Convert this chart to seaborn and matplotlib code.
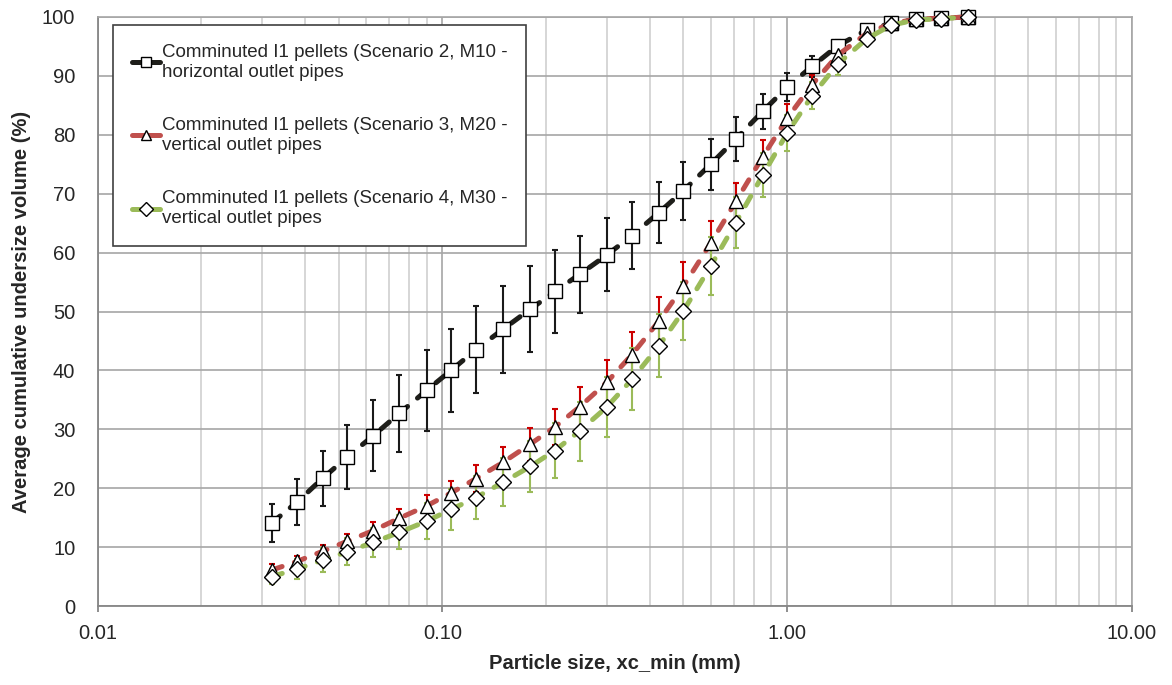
import numpy as np
import matplotlib
matplotlib.use("Agg")
import matplotlib.pyplot as plt
import matplotlib.ticker as mticker
import seaborn as sns

# sieve sizes (mm)
sizes = [0.032, 0.038, 0.045, 0.053, 0.063, 0.075, 0.090, 0.106, 0.125, 0.150,
         0.180, 0.212, 0.250, 0.300, 0.355, 0.425, 0.500, 0.600, 0.710, 0.850,
         1.000, 1.180, 1.400, 1.700, 2.000, 2.360, 2.800, 3.350]

# Scenario 2, M10 - horizontal outlet pipes
s2_mean = [14.1, 17.7, 21.7, 25.3, 28.9, 32.7, 36.6, 40.0, 43.5, 47.0,
           50.4, 53.4, 56.3, 59.6, 62.9, 66.8, 70.5, 75.0, 79.3, 84.0,
           88.1, 91.6, 95.1, 97.8, 98.9, 99.6, 99.8, 100.0]
s2_err = [3.2, 3.9, 4.7, 5.4, 6.0, 6.6, 6.9, 7.1, 7.4, 7.4,
          7.3, 7.0, 6.6, 6.2, 5.7, 5.2, 4.9, 4.3, 3.7, 3.0,
          2.4, 1.8, 1.0, 0.5, 0.3, 0.1, 0.1, 0.0]

# Scenario 3, M20 - vertical outlet pipes
s3_mean = [6.1, 7.6, 9.3, 11.0, 12.8, 14.9, 17.0, 19.2, 21.6, 24.4,
           27.5, 30.4, 33.8, 38.0, 42.7, 48.4, 54.3, 61.6, 68.7, 76.3,
           82.8, 88.5, 93.5, 97.2, 98.9, 99.6, 99.8, 100.0]
s3_err = [1.0, 0.9, 1.1, 1.2, 1.5, 1.6, 1.9, 2.1, 2.3, 2.6,
          2.8, 3.1, 3.4, 3.8, 3.9, 4.1, 4.1, 3.8, 3.2, 2.8,
          2.4, 1.6, 1.0, 0.6, 0.3, 0.1, 0.1, 0.0]

# Scenario 4, M30 - vertical outlet pipes
s4_mean = [5.0, 6.3, 7.8, 9.2, 10.8, 12.5, 14.4, 16.4, 18.4, 21.0,
           23.7, 26.4, 29.7, 33.8, 38.5, 44.2, 50.1, 57.7, 65.1, 73.2,
           80.3, 86.6, 92.0, 96.3, 98.6, 99.5, 99.7, 100.0]
s4_err = [1.2, 1.7, 2.0, 2.3, 2.4, 2.9, 3.1, 3.5, 3.7, 4.1,
          4.4, 4.6, 5.0, 5.1, 5.3, 5.3, 4.9, 4.9, 4.4, 3.7,
          3.1, 2.3, 1.8, 0.8, 0.4, 0.1, 0.1, 0.0]

labels = ["Comminuted I1 pellets (Scenario 2, M10 -\nhorizontal outlet pipes",
          "Comminuted I1 pellets (Scenario 3, M20 -\nvertical outlet pipes",
          "Comminuted I1 pellets (Scenario 4, M30 -\nvertical outlet pipes"]

sns.set_theme(style="white")
plt.rcParams['font.family'] = ['Liberation Sans', 'DejaVu Sans']

fig, ax = plt.subplots(figsize=(11.72, 6.85), dpi=100)
fig.subplots_adjust(left=0.0832, right=0.9659, top=0.9752, bottom=0.1153)

series = [
    (s2_mean, s2_err, labels[0], "#1e1e1a", "#1a1a1a", "s", 9.5),
    (s3_mean, s3_err, labels[1], "#c0504d", "#cc0000", "^", 10.5),
    (s4_mean, s4_err, labels[2], "#9bbb59", "#9bbb59", "D", 8),
]

dash = (0, (2.2, 2.6))
for k, (mean, err, lab, col, ecol, mk, ms) in enumerate(series):
    ax.errorbar(sizes, mean, yerr=err, fmt="none", ecolor=ecol, elinewidth=1.5,
                capsize=2.5, capthick=1.5, zorder=2 + 0.1 * k)
    sns.lineplot(x=sizes, y=mean, ax=ax, color=col, linewidth=3.6,
                 linestyle=dash, dash_capstyle="round", marker=mk, markersize=ms,
                 markerfacecolor="white", markeredgecolor="black",
                 markeredgewidth=1.0, label=lab, zorder=3 + 0.1 * k, clip_on=False)

ax.set_xscale("log")
ax.set_xlim(0.01, 10)
ax.set_ylim(0, 100)
ax.yaxis.set_major_locator(mticker.MultipleLocator(10))
ax.xaxis.set_major_locator(mticker.LogLocator(base=10))
ax.xaxis.set_minor_locator(mticker.LogLocator(base=10, subs=np.arange(2, 10)))
ax.xaxis.set_major_formatter(mticker.FuncFormatter(lambda v, p: f"{v:.2f}"))
ax.xaxis.set_minor_formatter(mticker.NullFormatter())

ax.grid(True, which="major", axis="y", color="#a6a6a6", linewidth=1.2)
ax.grid(True, which="major", axis="x", color="#a6a6a6", linewidth=1.2)
ax.grid(True, which="minor", axis="x", color="#d0d0d0", linewidth=1.2)
ax.set_axisbelow(True)

for s in ["left", "bottom"]:
    ax.spines[s].set_color("#868686")
    ax.spines[s].set_linewidth(1.3)
for s in ["top", "right"]:
    ax.spines[s].set_color("#a6a6a6")
    ax.spines[s].set_linewidth(1.2)

ax.tick_params(axis="x", which="major", direction="out", length=4, width=1.3,
               color="#868686", pad=9, labelsize=14.5, bottom=True)
ax.tick_params(axis="x", which="minor", length=0)
ax.tick_params(axis="y", length=0, pad=16, labelsize=14.5)

ax.set_xlabel("Particle size, xc_min (mm)", fontsize=14.5, fontweight="bold", labelpad=8)
ax.set_ylabel("Average cumulative undersize volume (%)", fontsize=14.5,
              fontweight="bold", labelpad=8)

leg = ax.legend(loc="upper left", bbox_to_anchor=(0.0148, 0.986), fontsize=13.5,
                frameon=True, fancybox=False, framealpha=1, edgecolor="#404040",
                handlelength=1.5, handletextpad=0.1, labelspacing=1.95,
                borderpad=1.0, borderaxespad=0)
leg.get_frame().set_linewidth(1.2)
for h in leg.legend_handles:
    h.set_linestyle("-")
    h.set_solid_capstyle("round")
    h.set_markersize(7)

plt.savefig("out.png", dpi=100)
